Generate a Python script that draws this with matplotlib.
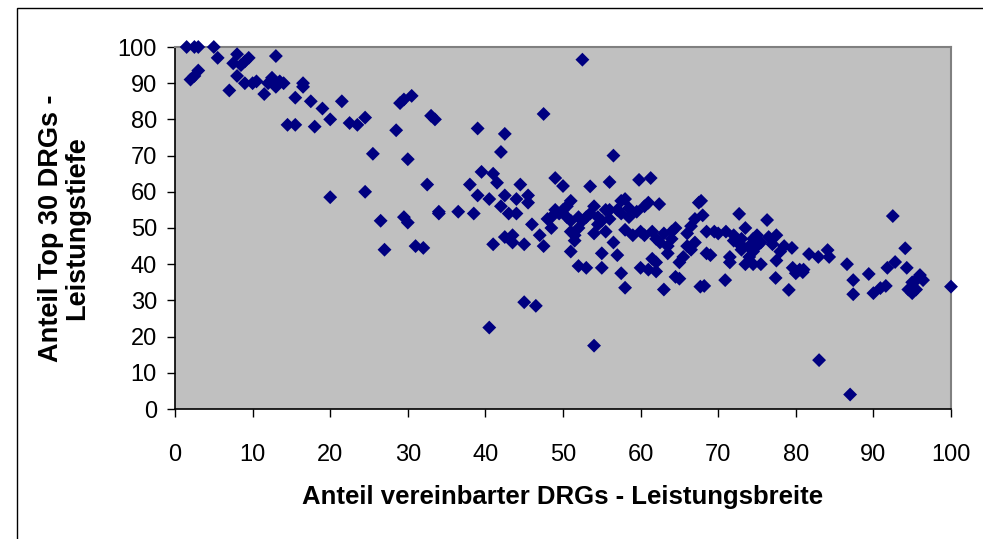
import matplotlib
matplotlib.use("Agg")
import matplotlib.pyplot as plt
from matplotlib.patches import Rectangle

x_vals = [1.5, 2.5, 3, 5, 2, 2.5, 3, 5.5, 7, 7.5, 8, 8.5, 8, 9, 9.5, 9, 10, 10.5, 11.5, 12,
          12.5, 13, 13, 13.5, 14, 14.5, 15.5, 15.5, 16.5, 16.5, 17.5, 18, 19, 20, 21.5, 22.5, 23.5, 24.5, 25.5, 24.5,
          20, 26.5, 27, 28.5, 29, 29.5, 30.5, 29.5, 30, 30, 31, 32, 32.5, 33, 33.5, 34, 34, 36.5, 38, 38.5,
          39, 39, 39.5, 40.5, 40.5, 41, 41, 41.5, 42, 42, 42.5, 42.5, 42.5, 43, 43.5, 43.5, 44, 44, 44.5, 45,
          45, 45.5, 45.5, 46, 46.5, 47, 47.5, 47.5, 48, 48.5, 48.5, 49, 49, 50, 50, 50.5, 51, 51, 51, 51,
          51.5, 51.5, 52, 52, 52.5, 52.5, 53, 53, 53.5, 54, 54, 54, 54.5, 55, 55, 55, 55.5, 55.5, 56, 56,
          56.5, 56.5, 57, 57, 57.5, 57.5, 58, 58, 58, 58.5, 59, 59.5, 59.8, 60, 60, 60.5, 61, 61, 61.3, 61.5,
          61.5, 62, 62, 62, 62.4, 63, 63, 63.5, 63.5, 64, 64.5, 64.5, 65, 65, 65.5, 66, 66.5, 66.5, 67, 67,
          67.5, 67.8, 67.7, 68.2, 68, 68.5, 68.5, 69, 70, 70.9, 71, 71.5, 71.5, 72, 72.5, 72.7, 73, 73, 73.2, 73.5,
          73.5, 74, 74, 74.5, 74.5, 75, 75, 75.5, 76.3, 76.5, 77, 77.4, 77.5, 77.5, 78, 78.5, 79.1, 79.5, 79.6, 80,
          80.9, 80.5, 81, 81.7, 82.9, 84.1, 84.3, 83, 86.6, 87, 87.4, 87.4, 89.4, 90, 90.9, 91.6, 91.8, 92.8, 92.5, 94.1,
          94.3, 95, 94.5, 95, 95.5, 96.4, 95.5, 96, 100, 49.5, 50.5, 52, 53.5, 54.5, 56, 57.5, 58.5, 60.5, 62.5,
          64, 66, 69.5, 72, 74.5, 75.5]
y_vals = [100, 100, 100, 100, 91, 92, 93.5, 97, 88, 95.5, 98, 95, 92, 96, 97, 90, 90, 90.5, 87, 90,
          91.5, 89, 97.5, 90.5, 90, 78.5, 86, 78.5, 89, 90, 85, 78, 83, 80, 85, 79, 78.5, 80.5, 70.5, 60,
          58.5, 52, 44, 77, 84.5, 85.5, 86.5, 53, 51.5, 69, 45, 44.5, 62, 81, 80, 54.5, 54, 54.5, 62, 54,
          59, 77.5, 65.5, 22.5, 58, 45.5, 65, 62.5, 71, 56, 59, 76, 47.5, 54, 46, 48, 54, 58, 62, 45.5,
          29.5, 57, 59, 51, 28.5, 48, 81.5, 45, 52.5, 53, 50, 55, 63.8, 61.6, 55, 53, 52, 57.5, 49, 43.5,
          48, 46.5, 53, 39.5, 96.5, 52, 39, 53, 61.5, 56, 48.5, 17.5, 51, 52, 43, 39, 55, 49, 62.7, 55,
          46, 70, 42.5, 55, 57.5, 37.5, 33.5, 58, 49.5, 53, 48, 54.5, 63.3, 39, 49, 56, 38.5, 57, 63.8, 49,
          41.5, 47, 40.5, 38, 56.6, 33, 48.5, 45, 43, 49, 36.5, 50, 40.5, 36, 42, 45, 50.5, 44, 46, 52.5,
          57, 57.5, 33.8, 34, 53.5, 49, 43, 42.5, 48.5, 35.6, 49, 42, 40.5, 48, 46, 53.9, 47, 44, 44.8, 50,
          40, 45, 42, 47, 40, 48, 45, 40, 52.2, 47.5, 45.5, 36.2, 48, 41, 43.5, 45, 32.9, 44.5, 39, 37.5,
          37.8, 38.5, 38.5, 42.8, 42, 43.9, 42, 13.5, 40, 4, 35.6, 31.7, 37.3, 32, 33.4, 34, 39, 40.6, 53.3, 44.4,
          39, 35, 33, 32, 35.6, 35.6, 33, 37, 33.8, 54, 56, 50, 54, 53, 52.5, 54, 55.5, 48, 46,
          47, 48.5, 49, 46.5, 43.5, 46]

x_ticks = [0, 10, 20, 30, 40, 50, 60, 70, 80, 90, 100]
y_ticks = [0, 10, 20, 30, 40, 50, 60, 70, 80, 90, 100]
x_label = "Anteil vereinbarter DRGs - Leistungsbreite"
y_label = "Anteil Top 30 DRGs -\nLeistungstiefe"

plt.rcParams['font.family'] = ['Liberation Sans', 'DejaVu Sans']

W, H = 983, 539
fig = plt.figure(figsize=(W / 100, H / 100), dpi=100)
fig.patch.set_facecolor('white')

# outer chart border
fig.add_artist(Rectangle((17 / W, -0.1), 1.2, (H - 8) / H + 0.1, transform=fig.transFigure,
                         fill=False, edgecolor='black', linewidth=1.0))

left, right, top, bottom = 175, 951, 47, 409
ax = fig.add_axes([left / W, 1 - bottom / H, (right - left) / W, (bottom - top) / H])
ax.set_facecolor('#C0C0C0')

ax.scatter(x_vals, y_vals, marker='D', s=50, color='#000080', edgecolors='none', zorder=3, clip_on=False)

ax.set_xlim(0, 100)
ax.set_ylim(0, 100)
ax.set_xticks(x_ticks)
ax.set_yticks(y_ticks)
ax.tick_params(axis='both', direction='out', length=6, width=1, color='black', labelsize=17)
ax.tick_params(axis='y', pad=7)
ax.tick_params(axis='x', pad=19)

for side in ['top', 'right']:
    ax.spines[side].set_color('#808080')
    ax.spines[side].set_linewidth(1.5)
for side in ['left', 'bottom']:
    ax.spines[side].set_color('black')
    ax.spines[side].set_linewidth(1.2)

ax.set_xlabel(x_label, fontsize=18.5, fontweight='bold', labelpad=14)
ax.set_ylabel(y_label, fontsize=19.5, fontweight='bold', labelpad=20, linespacing=1.0)

fig.savefig('out.png', dpi=100)
